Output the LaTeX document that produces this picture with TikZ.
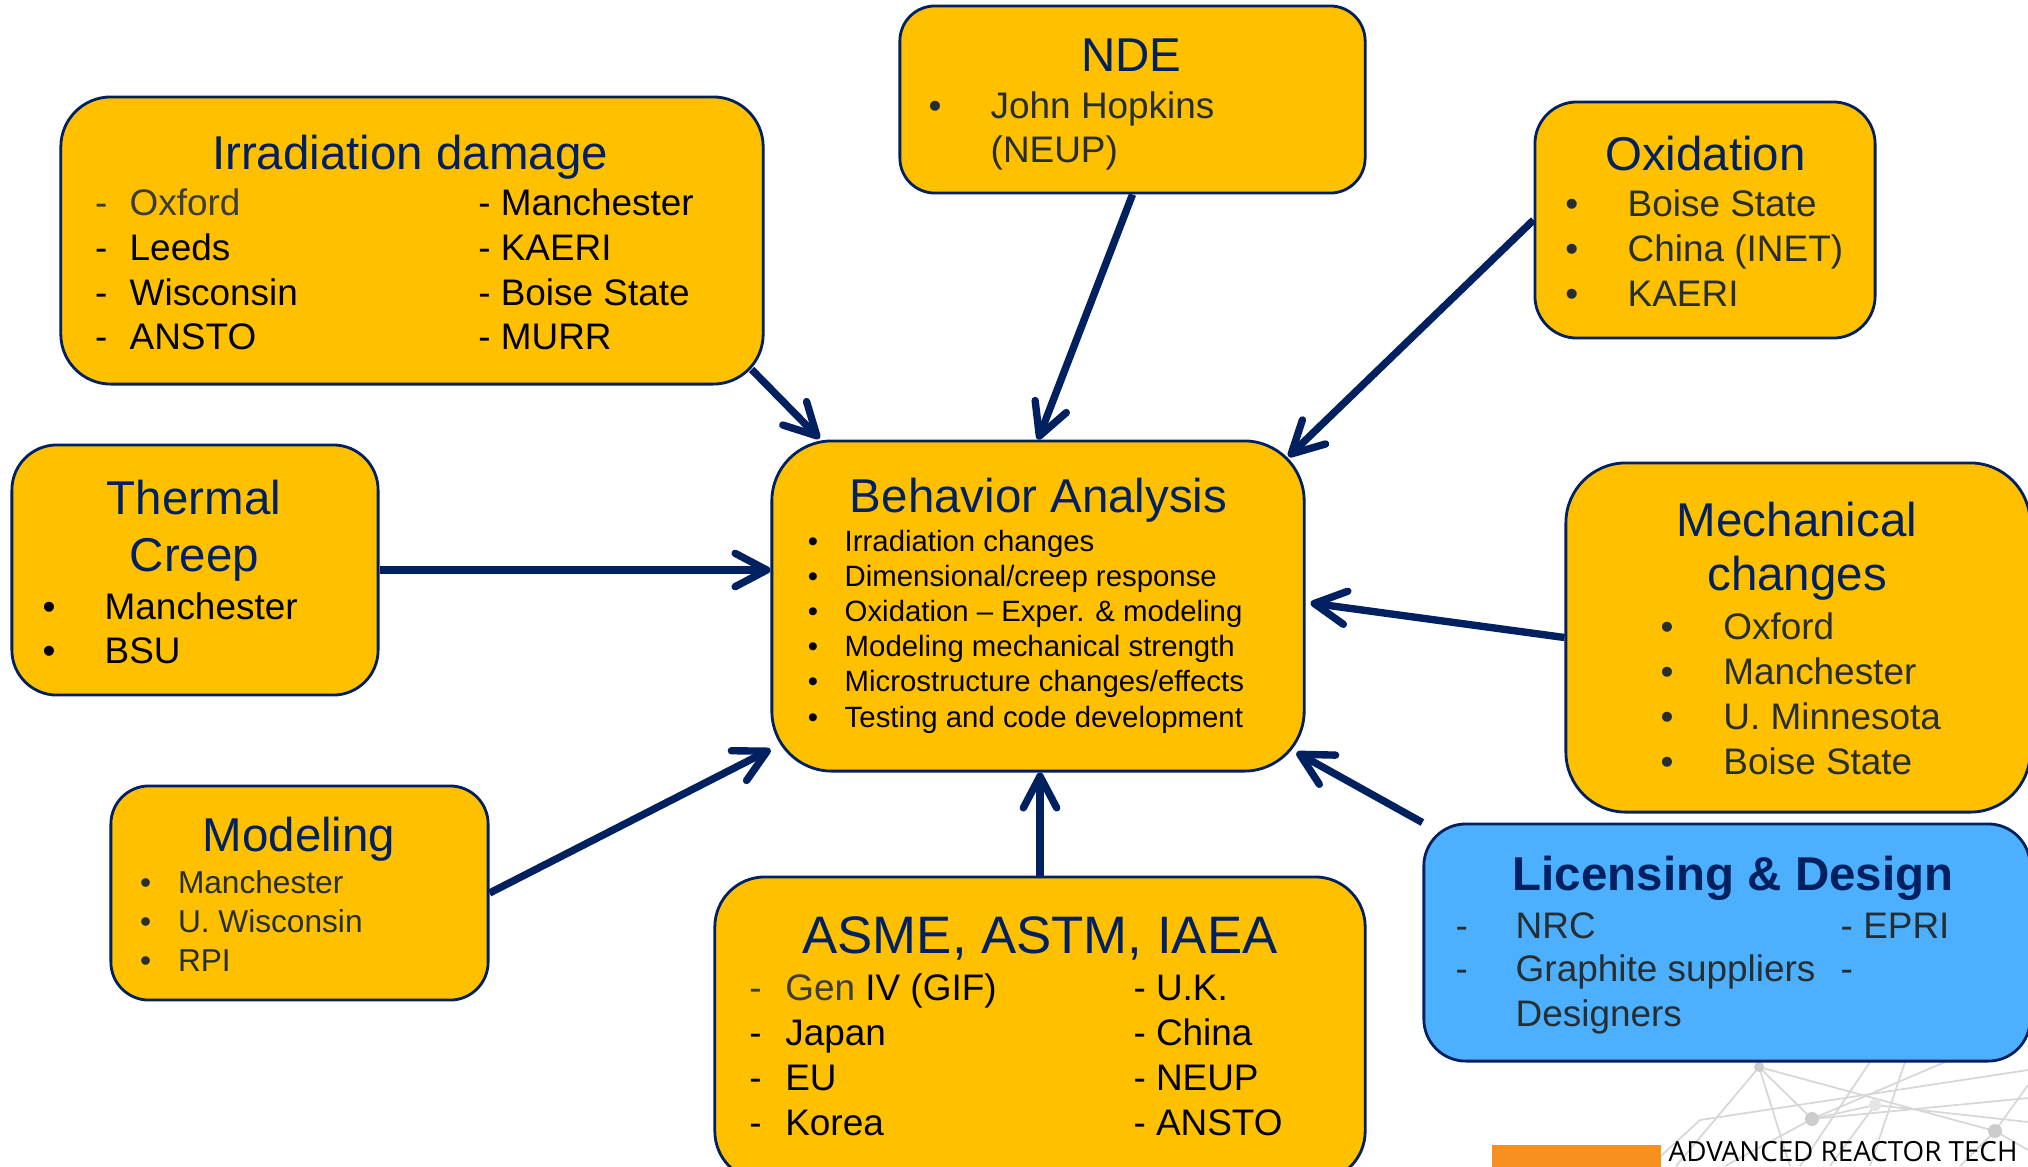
\documentclass[tikz,border=0pt]{standalone}
\usepackage{fontspec}
\setmainfont{Liberation Sans}
\newfontfamily\footfont{Open Sans}
\usetikzlibrary{arrows.meta,calc}
\definecolor{navy}{RGB}{0,32,96}
\definecolor{gold}{RGB}{255,192,0}
\definecolor{skyb}{RGB}{77,176,255}
\definecolor{itemgray}{RGB}{38,46,50}
\definecolor{softgray}{RGB}{60,60,60}
\definecolor{orng}{RGB}{247,144,30}
\definecolor{netgray}{RGB}{215,215,215}
\begin{document}
\begin{tikzpicture}[x=0.01cm,y=-0.01cm,
  box/.style={draw=navy,line width=0.8pt,fill=gold,rounded corners=#1,inner sep=0pt},
  ttl/.style={anchor=base,text=navy,inner sep=0pt,font=\fontsize{13.5}{16}\selectfont},
  itm/.style={anchor=base west,inner sep=0pt,font=\fontsize{10.5}{12.6}\selectfont},
  bul/.style={anchor=base,inner sep=0pt,font=\fontsize{10.5}{12.6}\selectfont},
  sitm/.style={itm,font=\fontsize{9}{11}\selectfont},
  sbul/.style={bul,font=\fontsize{9}{11}\selectfont},
  bitm/.style={itm,font=\fontsize{8.35}{10}\selectfont},
  bbul/.style={bul,font=\fontsize{8.35}{10}\selectfont},
  net/.style={draw=netgray,line width=0.5pt},
  conn/.style={draw=navy,line width=2.1pt,-{Straight Barb[length=9pt,width=9.5pt,round]}}
]
\useasboundingbox (0,0) rectangle (2028,1166);

% background network decoration
\coordinate (nA) at (1759,1067);
\coordinate (nB) at (1812,1119);
\coordinate (nC) at (1875,1105);
\coordinate (nD) at (1995,1131);
\draw[net] (nA) -- (nB);
\draw[net] (nA) -- (1676,1166);
\draw[net] (nA) -- (1790,1166);
\draw[net] (nA) -- (nD);
\draw[net] (nB) -- (1945,1062);
\draw[net] (nB) -- (1725,1166);
\draw[net] (nB) -- (2028,1098);
\draw[net] (nB) -- (nC);
\draw[net] (nC) -- (1830,1166);
\draw[net] (nC) -- (2028,1122);
\draw[net] (nD) -- (2028,1085);
\draw[net] (nD) -- (1960,1166);
\draw[net] (nD) -- (2028,1150);
\draw[net] (1870,1062) -- (1800,1166);
\draw[net] (1905,1062) -- (1870,1166);
\draw[net] (1650,1166) -- (1700,1120) -- (2028,1070);
\fill[gray!40] (nA) circle (5);
\fill[gray!40] (nB) circle (7);
\fill[gray!20] (nC) circle (6);
\fill[gray!40] (nD) circle (7);

% boxes
\node[box=0.5cm,minimum width=7.02cm,minimum height=2.87cm] (irr) at (412,240.5) {};
\node[box=0.35cm,minimum width=4.65cm,minimum height=1.87cm] (nde) at (1132.5,99.5) {};
\node[box=0.42cm,minimum width=3.40cm,minimum height=2.36cm] (oxi) at (1705,220) {};
\node[box=0.45cm,minimum width=3.66cm,minimum height=2.50cm] (thc) at (195,570) {};
\node[box=0.6cm,minimum width=5.32cm,minimum height=3.30cm] (beh) at (1038,606) {};
\node[box=0.6cm,minimum width=4.64cm,minimum height=3.49cm] (mech) at (1798,637.5) {};
\node[box=0.38cm,minimum width=3.77cm,minimum height=2.14cm] (mod) at (299.5,893) {};
\node[box=0.5cm,minimum width=6.50cm,minimum height=3.04cm] (asme) at (1040,1029) {};
\node[box=0.42cm,minimum width=6.06cm,minimum height=2.37cm,fill=skyb] (lic) at (1727,942.5) {};

% Irradiation damage
\node[ttl] (irrT) at (410,169) {Irradiation damage};
\node[itm,text=softgray] (irrd1) at (94.5,215) {-};
\node[itm,text=softgray] (irra1) at (129,215) {Oxford};
\node[itm] (irrd2) at (94.5,260) {-};
\node[itm] (irra2) at (129,260) {Leeds};
\node[itm] (irrd3) at (94.5,305) {-};
\node[itm] (irra3) at (129,305) {Wisconsin};
\node[itm] (irrd4) at (94.5,349.5) {-};
\node[itm] (irra4) at (129,349.5) {ANSTO};
\node[itm] (irrb1) at (477.6,215) {- Manchester};
\node[itm] (irrb2) at (477.6,260) {- KAERI};
\node[itm] (irrb3) at (477.6,305) {- Boise State};
\node[itm] (irrb4) at (477.6,349.5) {- MURR};

% NDE
\node[ttl] (ndeT) at (1131.5,71.7) {NDE};
\node[bul,text=itemgray] (ndeb1) at (935,118.3) {•};
\node[itm,text=itemgray] (ndea1) at (990,118.3) {John Hopkins};
\node[itm,text=itemgray] (ndea2) at (990,162) {(NEUP)};

% Oxidation
\node[ttl] (oxiT) at (1705.5,170) {Oxidation};
\node[bul,text=itemgray] (oxib1) at (1571.7,216) {•};
\node[bul,text=itemgray] (oxib2) at (1571.7,261) {•};
\node[bul,text=itemgray] (oxib3) at (1571.7,306) {•};
\node[itm,text=itemgray] (oxia1) at (1627,216) {Boise State};
\node[itm,text=itemgray] (oxia2) at (1627,261) {China (INET)};
\node[itm,text=itemgray] (oxia3) at (1627,306) {KAERI};

% Thermal Creep
\node[ttl] (thcT1) at (194,514.3) {Thermal};
\node[ttl] (thcT2) at (194.5,571.7) {Creep};
\node[bul] (thcb1) at (49,619.4) {•};
\node[bul] (thcb2) at (49,663.8) {•};
\node[itm] (thca1) at (104,619.4) {Manchester};
\node[itm] (thca2) at (104,663.8) {BSU};

% Behavior Analysis
\node[ttl] (behT) at (1038.6,512.7) {Behavior Analysis};
\foreach \t [count=\i from 0] in {Irradiation changes,Dimensional/creep response,Oxidation – Exper. \& modeling,Modeling mechanical strength,Microstructure changes/effects,Testing and code development}{
  \node[bbul] (behb\i) at (812.9,551+35.2*\i) {•};
  \node[bitm] (beha\i) at (844,551+35.2*\i) {\t};
}

% Mechanical changes
\node[ttl] (mechT1) at (1797,536) {Mechanical};
\node[ttl] (mechT2) at (1797,590) {changes};
\foreach \t [count=\i from 0] in {Oxford,Manchester,U. Minnesota,Boise State}{
  \node[bul,text=itemgray] (mechb\i) at (1667,639.3+45*\i) {•};
  \node[itm,text=itemgray] (mecha\i) at (1722.7,639.3+45*\i) {\t};
}

% Modeling
\node[ttl] (modT) at (299,851.7) {Modeling};
\foreach \t [count=\i from 0] in {Manchester,U. Wisconsin,RPI}{
  \node[sbul,text=itemgray] (modb\i) at (145.7,893.6+39*\i) {•};
  \node[sitm,text=itemgray] (moda\i) at (177.3,893.6+39*\i) {\t};
}

% ASME, ASTM, IAEA
\node[ttl,font=\fontsize{15}{18}\selectfont] (asmeT) at (1040,953.3) {ASME, ASTM, IAEA};
\node[itm,text=softgray] (asmed1) at (748.6,1000) {-};
\node[itm] (asmea1) at (784.6,1000) {\textcolor{softgray}{Gen} IV (GIF)};
\node[itm] (asmed2) at (748.6,1045) {-};
\node[itm] (asmea2) at (784.6,1045) {Japan};
\node[itm] (asmed3) at (748.6,1090) {-};
\node[itm] (asmea3) at (784.6,1090) {EU};
\node[itm] (asmed4) at (748.6,1135) {-};
\node[itm] (asmea4) at (784.6,1135) {Korea};
\node[itm] (asmeb1) at (1132.8,1000) {- U.K.};
\node[itm] (asmeb2) at (1132.8,1045) {- China};
\node[itm] (asmeb3) at (1132.8,1090) {- NEUP};
\node[itm] (asmeb4) at (1132.8,1135) {- ANSTO};

% Licensing & Design
\node[ttl,font=\fontsize{13.5}{16}\selectfont\bfseries] (licT) at (1733,890.7) {Licensing \& Design};
\node[itm,text=itemgray] (licd1) at (1455,938.3) {-};
\node[itm,text=itemgray] (lica1) at (1515,938.3) {NRC};
\node[itm,text=itemgray] (licd2) at (1455,981.7) {-};
\node[itm,text=itemgray] (lica2) at (1515,981.7) {Graphite suppliers};
\node[itm,text=itemgray] (lica3) at (1515,1026.7) {Designers};
\node[itm,text=itemgray] (licb1) at (1840,938.3) {- EPRI};
\node[itm,text=itemgray] (licb2) at (1840,981.7) {-};

% footer
\node[fill=orng,inner sep=0pt,minimum width=1.69cm,minimum height=0.26cm,anchor=north west] (footbar) at (1491,1144) {};
\node[anchor=base west,inner sep=0pt,font=\footfont\fontsize{7.9}{9.5}\selectfont] (foottext) at (1668,1161) {ADVANCED REACTOR TECH};

% connectors
\draw[conn] ($(irr.south east)+(-13,-16)$) -- ($(beh.north west)+(49,-1)$);
\draw[conn] (nde.south) -- (beh.north);
\draw[conn] (oxi.west) -- ($(beh.north east)+(-17,17)$);
\draw[conn] (thc.east) -- (thc.east -| beh.west);
\draw[conn] (mech.west) -- ($(beh.east)+(5,-3)$);
\draw[conn] (mod.east) -- ($(beh.south west)+(0,-23)$);
\draw[conn] (asme.north) -- (asme.north |- beh.south);
\draw[conn] (lic.north west) -- ($(beh.south east)+(-9,-20)$);
\end{tikzpicture}
\end{document}
